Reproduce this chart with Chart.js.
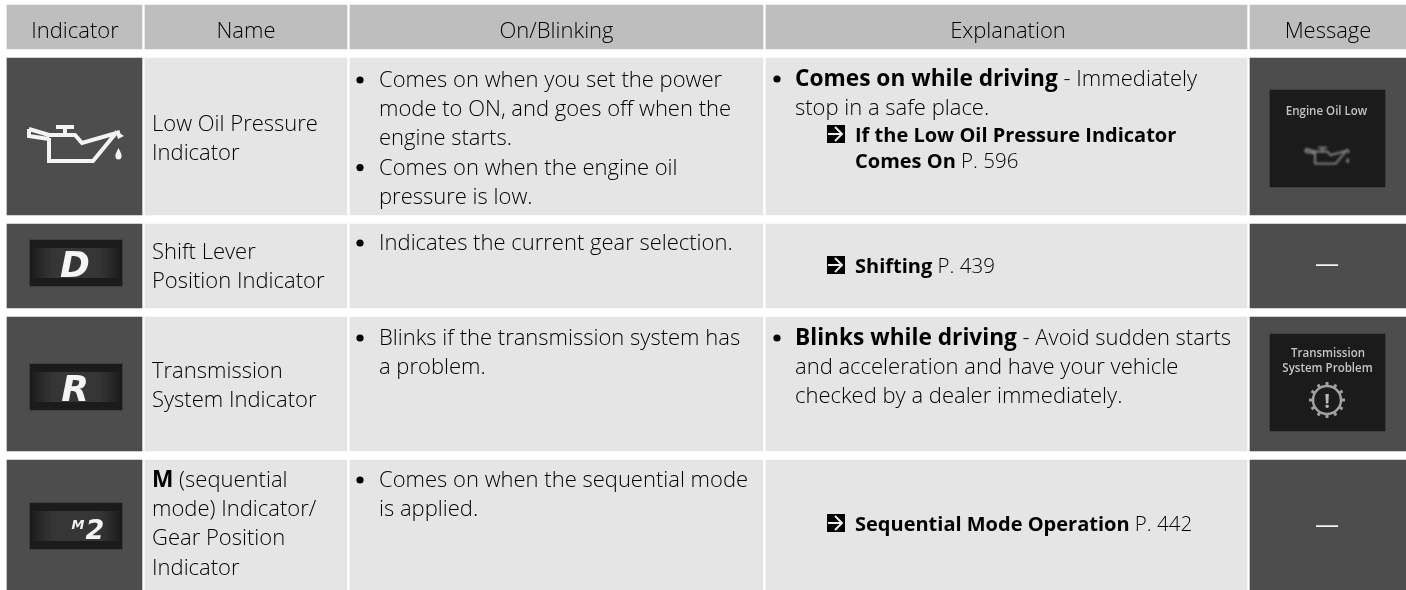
<!DOCTYPE html>
<html>
<head>
<meta charset="utf-8">
<style>
  html, body { margin: 0; padding: 0; background: #fff; overflow: hidden; }
  canvas { display: block; }
</style>
<script src="https://cdn.jsdelivr.net/npm/chart.js@4/dist/chart.umd.min.js"></script>
</head>
<body>
<canvas id="table" width="1406" height="590"></canvas>
<script>
// table contents
const headers = ['Indicator', 'Name', 'On/Blinking', 'Explanation', 'Message'];
const names = [
  ['Low Oil Pressure', 'Indicator'],
  ['Shift Lever', 'Position Indicator'],
  ['Transmission', 'System Indicator'],
  ['**M** (sequential', 'mode) Indicator/', 'Gear Position', 'Indicator']
];
const onBlinking = [
  [['Comes on when you set the power', 'mode to ON, and goes off when the', 'engine starts.'], ['Comes on when the engine oil', 'pressure is low.']],
  [['Indicates the current gear selection.']],
  [['Blinks if the transmission system has', 'a problem.']],
  [['Comes on when the sequential mode', 'is applied.']]
];
const explanation = [
  ['**Comes on while driving** - Immediately', 'stop in a safe place.'],
  [],
  ['**Blinks while driving** - Avoid sudden starts', 'and acceleration and have your vehicle', 'checked by a dealer immediately.'],
  []
];
const references = [
  ['**If the Low Oil Pressure Indicator**', '**Comes On** P. 596'],
  ['**Shifting** P. 439'],
  [],
  ['**Sequential Mode Operation** P. 442']
];
const messages = [['Engine Oil Low'], ['—'], ['Transmission', 'System Problem'], ['—']];
const lampLabels = ['', 'D', 'R', '2'];

// table geometry
const columnWidths = [135, 202, 413, 481, 156];
const rowHeights = [44, 157, 84, 134, 130];
const tableLeft = 7, tableTop = 5, columnGap = 3, rowGap = 9;
const HEADER = '#bebebe', LIGHT = '#e5e5e5', DARK = '#4d4d4d', SCREEN = '#1b1b1b';
const FONT = '"Open Sans", "Noto Sans", sans-serif';

function cellDatasets() {
  const sets = [];
  let top = tableTop;
  rowHeights.forEach((h, r) => {
    let left = tableLeft;
    columnWidths.forEach((w, c) => {
      const color = r === 0 ? HEADER : (c === 0 || c === 4 ? DARK : LIGHT);
      sets.push({
        data: [{ x: [left, left + w], y: top + h / 2 }],
        barThickness: h, backgroundColor: color, stack: 'cells', order: 2
      });
      left += w + columnGap;
    });
    top += h + rowGap;
  });
  return sets;
}

// dark display inserts inside the image cells
const screens = [
  [30, 122, 240, 286], [30, 122, 364, 410], [30, 122, 503, 549],
  [1270, 1385, 90, 187], [1270, 1385, 334, 431]
];
function screenDatasets() {
  return screens.map(s => ({
    data: [{ x: [s[0], s[1]], y: (s[2] + s[3]) / 2 }],
    barThickness: s[3] - s[2], backgroundColor: SCREEN, stack: 'cells', order: 1
  }));
}

function drawRuns(ctx, line, x, y, size, align, boldSize) {
  const parts = line.split('**');
  const fontOf = i => (i % 2 ? '700 ' + (boldSize || size) : '350 ' + size) + 'px ' + FONT;
  let total = 0;
  parts.forEach((p, i) => { ctx.font = fontOf(i); total += ctx.measureText(p).width; });
  let cx = align === 'center' ? x - total / 2 : x;
  ctx.textAlign = 'left';
  parts.forEach((p, i) => {
    ctx.font = fontOf(i);
    ctx.fillText(p, cx, y);
    cx += ctx.measureText(p).width;
  });
  return cx;
}

function drawArrow(ctx, x, y) {
  ctx.fillStyle = '#000';
  ctx.fillRect(x, y, 18, 18);
  ctx.strokeStyle = '#eee';
  ctx.lineWidth = 2;
  ctx.beginPath();
  ctx.moveTo(x + 1, y + 9);
  ctx.lineTo(x + 15, y + 9);
  ctx.moveTo(x + 8, y + 2);
  ctx.lineTo(x + 15, y + 9);
  ctx.lineTo(x + 8, y + 16);
  ctx.stroke();
  ctx.fillStyle = '#000';
}

function drawOilCan(ctx, ox, oy, k, color, width) {
  ctx.save();
  ctx.translate(ox, oy);
  ctx.scale(k, k);
  ctx.strokeStyle = color;
  ctx.fillStyle = color;
  ctx.lineWidth = width;
  ctx.lineJoin = 'miter';
  ctx.beginPath();
  ctx.moveTo(49, 138);
  ctx.lineTo(49, 161);
  ctx.lineTo(93, 161);
  ctx.lineTo(116, 133);
  ctx.moveTo(29, 129);
  ctx.lineTo(29, 136);
  ctx.lineTo(49, 139);
  ctx.moveTo(29, 129);
  ctx.lineTo(49, 135);
  ctx.lineTo(75, 135);
  ctx.lineTo(82, 143);
  ctx.lineTo(120, 132);
  ctx.stroke();
  ctx.fillRect(56, 125, 18, 4);
  ctx.fillRect(63, 128, 4, 7);
  ctx.beginPath();
  ctx.moveTo(115, 130);
  ctx.lineTo(124, 136);
  ctx.lineTo(118, 139);
  ctx.closePath();
  ctx.fill();
  ctx.beginPath();
  ctx.moveTo(118.5, 148);
  ctx.bezierCurveTo(116, 153, 115, 155, 115.5, 156.5);
  ctx.arc(118.5, 156.5, 3, Math.PI, 0, true);
  ctx.bezierCurveTo(122, 155, 121, 153, 118.5, 148);
  ctx.fill();
  ctx.restore();
}

function drawGear(ctx, cx, cy, r) {
  ctx.strokeStyle = '#a0a0a0';
  ctx.lineWidth = 2.5;
  ctx.beginPath();
  ctx.arc(cx, cy, r - 4, 0, Math.PI * 2);
  ctx.stroke();
  ctx.lineWidth = 3;
  for (let i = 0; i < 12; i++) {
    const a = i * Math.PI / 6;
    ctx.beginPath();
    ctx.moveTo(cx + Math.cos(a) * (r - 4), cy + Math.sin(a) * (r - 4));
    ctx.lineTo(cx + Math.cos(a) * r, cy + Math.sin(a) * r);
    ctx.stroke();
  }
  ctx.fillStyle = '#b8b8b8';
  ctx.font = '700 20px ' + FONT;
  ctx.textAlign = 'center';
  ctx.fillText('!', cx, cy + 8);
}

// blurred small text on the message displays, slightly condensed
function drawDisplayText(ctx, text, cx, y) {
  ctx.save();
  ctx.translate(cx, y);
  ctx.scale(0.9, 1);
  ctx.fillText(text, 0, 0);
  ctx.restore();
}

const tableText = {
  id: 'tableText',
  afterDatasetsDraw(chart) {
    const ctx = chart.ctx;
    const size = 22, bold = 22.7, step = 29.2;
    ctx.save();
    ctx.textBaseline = 'alphabetic';

    // glow behind the lamp digits
    [[240, 286], [364, 410], [503, 549]].forEach(b => {
      const g = ctx.createLinearGradient(30, 0, 122, 0);
      g.addColorStop(0, 'rgba(150,150,150,0)');
      g.addColorStop(0.25, 'rgba(150,150,150,0.22)');
      g.addColorStop(0.75, 'rgba(150,150,150,0.22)');
      g.addColorStop(1, 'rgba(150,150,150,0)');
      ctx.fillStyle = g;
      ctx.fillRect(32, b[0] + 8, 88, b[1] - b[0] - 16);
    });

    ctx.fillStyle = '#000';
    const centers = [75, 246, 556.5, 1008, 1328];
    headers.forEach((h, i) => drawRuns(ctx, h, centers[i], 37.5, size, 'center'));

    const nameTops = [131, 259, 378, 487];
    names.forEach((lines, r) => lines.forEach((l, i) => drawRuns(ctx, l, 152, nameTops[r] + i * step, size, 'left', bold)));

    const bulletTops = [87, 250, 345, 487];
    onBlinking.forEach((groups, r) => {
      let n = 0;
      groups.forEach(lines => {
        ctx.beginPath();
        ctx.arc(360, bulletTops[r] + n * step - 7, 3.6, 0, Math.PI * 2);
        ctx.fill();
        lines.forEach(l => { drawRuns(ctx, l, 379, bulletTops[r] + n * step, size); n++; });
      });
    });

    const explTops = [86, 0, 345, 0];
    explanation.forEach((lines, r) => lines.forEach((l, i) => {
      if (i === 0) {
        ctx.beginPath();
        ctx.arc(777, explTops[r] - 7, 3.6, 0, Math.PI * 2);
        ctx.fill();
      }
      drawRuns(ctx, l, 795, explTops[r] + i * step, size, 'left', bold);
    }));

    const refBaselines = [142.3, 273.3, 0, 530.7];
    references.forEach((lines, r) => lines.forEach((l, i) => {
      if (i === 0) drawArrow(ctx, 827, Math.round(refBaselines[r]) - 17);
      drawRuns(ctx, l, 855, refBaselines[r] + i * 26, 20.5, 'left', 20);
    }));

    // lamp pictures
    drawOilCan(ctx, 0, 0, 1, '#f4f4f4', 4);
    ctx.fillStyle = '#f4f4f4';
    ctx.textAlign = 'center';
    ctx.font = 'italic 700 36px "DejaVu Sans"';
    ctx.fillText(lampLabels[1], 75, 277);
    ctx.save();
    ctx.filter = 'blur(0.7px)';
    ctx.fillText(lampLabels[2], 75, 401);
    ctx.restore();
    ctx.font = 'italic 700 13px "DejaVu Sans"';
    ctx.fillText('M', 78, 529);
    ctx.font = 'italic 700 27px "DejaVu Sans"';
    ctx.fillText(lampLabels[3], 95, 539);

    // message column
    ctx.save();
    ctx.filter = 'blur(0.6px)';
    ctx.fillStyle = '#c4c4c4';
    ctx.font = '600 12.8px ' + FONT;
    ctx.textAlign = 'center';
    drawDisplayText(ctx, messages[0][0], 1326.5, 115);
    drawDisplayText(ctx, messages[2][0], 1328, 357);
    drawDisplayText(ctx, messages[2][1], 1327.5, 372);
    ctx.restore();
    ctx.save();
    ctx.filter = 'blur(1px)';
    drawOilCan(ctx, 1292, 88, 0.47, '#8a8a8a', 4);
    ctx.restore();
    ctx.save();
    ctx.filter = 'blur(0.5px)';
    drawGear(ctx, 1327, 400, 18);
    ctx.restore();
    ctx.fillStyle = '#f4f4f4';
    ctx.font = '400 24px ' + FONT;
    ctx.textAlign = 'center';
    ctx.fillText(messages[1][0], 1327, 272);
    ctx.fillText(messages[3][0], 1327, 533);
    ctx.restore();
  }
};

new Chart(document.getElementById('table'), {
  type: 'bar',
  data: { datasets: cellDatasets().concat(screenDatasets()) },
  plugins: [tableText],
  options: {
    indexAxis: 'y',
    responsive: false,
    animation: false,
    events: [],
    layout: { padding: 0 },
    plugins: { legend: { display: false }, tooltip: { enabled: false } },
    scales: {
      x: { type: 'linear', min: 0, max: 1406, stacked: false, display: false },
      y: { type: 'linear', min: 0, max: 590, reverse: true, stacked: true, offset: false, display: false }
    }
  }
});
</script>
</body>
</html>
